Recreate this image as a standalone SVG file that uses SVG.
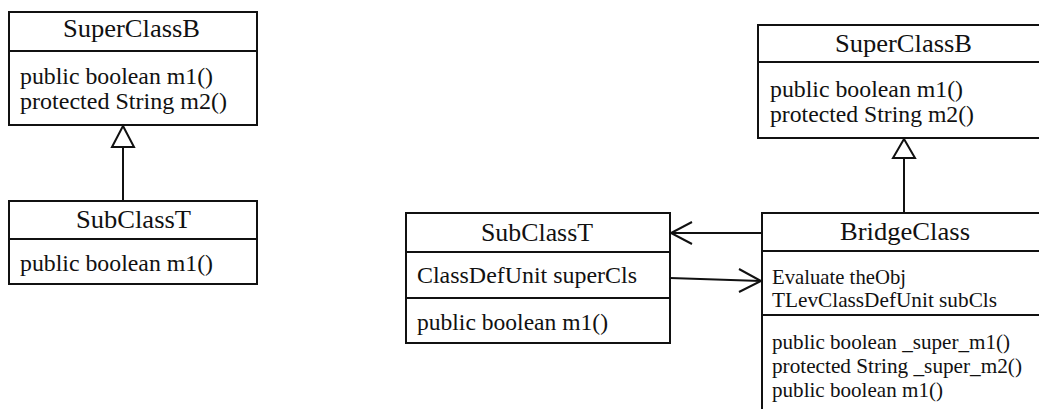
<svg xmlns="http://www.w3.org/2000/svg" width="1039" height="409" viewBox="0 0 1039 409">
<style>
.box{fill:#fff;stroke:#111;stroke-width:2}
.ln{stroke:#111;stroke-width:2;fill:none}
.tri{fill:#fff;stroke:#111;stroke-width:2;stroke-linejoin:miter}
.t{font-family:"Liberation Serif","Times New Roman",serif;font-size:25px;fill:#111;text-anchor:middle}
.b{font-family:"Liberation Serif","Times New Roman",serif;font-size:23px;fill:#111}
.s{font-family:"Liberation Serif","Times New Roman",serif;font-size:21px;fill:#111}
</style>
<rect width="1039" height="409" fill="#fff"/>
<g id="superB_left">
<rect class="box" x="9" y="12" width="248" height="113"/>
<line class="ln" x1="9" y1="51" x2="257" y2="51"/>
<text class="t" x="131.5" y="37" textLength="137" lengthAdjust="spacingAndGlyphs">SuperClassB</text>
<text class="b" x="20" y="84" textLength="193" lengthAdjust="spacingAndGlyphs">public boolean m1()</text>
<text class="b" x="20" y="109" textLength="207" lengthAdjust="spacingAndGlyphs">protected String m2()</text>
</g>
<g id="subT_left">
<rect class="box" x="9" y="201" width="248" height="83"/>
<line class="ln" x1="9" y1="239" x2="257" y2="239"/>
<text class="t" x="133.5" y="228" textLength="115" lengthAdjust="spacingAndGlyphs">SubClassT</text>
<text class="b" x="20" y="271" textLength="193" lengthAdjust="spacingAndGlyphs">public boolean m1()</text>
</g>
<g id="subT_mid">
<rect class="box" x="406" y="213" width="264" height="130"/>
<line class="ln" x1="406" y1="252" x2="670" y2="252"/>
<line class="ln" x1="406" y1="298" x2="670" y2="298"/>
<text class="t" x="537" y="241" textLength="112" lengthAdjust="spacingAndGlyphs">SubClassT</text>
<text class="b" x="417" y="283" textLength="220" lengthAdjust="spacingAndGlyphs">ClassDefUnit superCls</text>
<text class="b" x="417" y="330" textLength="191" lengthAdjust="spacingAndGlyphs">public boolean m1()</text>
</g>
<g id="superB_right">
<rect class="box" x="758" y="25" width="295" height="113"/>
<line class="ln" x1="758" y1="62" x2="1053" y2="62"/>
<text class="t" x="903.5" y="52" textLength="137" lengthAdjust="spacingAndGlyphs">SuperClassB</text>
<text class="b" x="770" y="97" textLength="193" lengthAdjust="spacingAndGlyphs">public boolean m1()</text>
<text class="b" x="770" y="122" textLength="204" lengthAdjust="spacingAndGlyphs">protected String m2()</text>
</g>
<g id="bridge">
<rect class="box" x="762" y="213" width="290" height="210"/>
<line class="ln" x1="762" y1="251" x2="1052" y2="251"/>
<line class="ln" x1="762" y1="315" x2="1052" y2="315"/>
<text class="t" x="905" y="240" textLength="130" lengthAdjust="spacingAndGlyphs">BridgeClass</text>
<text class="s" x="772" y="284" textLength="134" lengthAdjust="spacingAndGlyphs">Evaluate theObj</text>
<text class="s" x="772" y="307" textLength="225" lengthAdjust="spacingAndGlyphs">TLevClassDefUnit subCls</text>
<text class="s" x="772" y="349" textLength="238" lengthAdjust="spacingAndGlyphs">public boolean _super_m1()</text>
<text class="s" x="772" y="373" textLength="250" lengthAdjust="spacingAndGlyphs">protected String _super_m2()</text>
<text class="s" x="772" y="397" textLength="171" lengthAdjust="spacingAndGlyphs">public boolean m1()</text>
</g>
<g id="connectors">
<line class="ln" x1="123" y1="201" x2="123" y2="147"/>
<polygon class="tri" points="123,126 112,147 134,147"/>
<line class="ln" x1="904" y1="213" x2="904" y2="158"/>
<polygon class="tri" points="904,139 893,158 915,158"/>
<line class="ln" x1="762" y1="233" x2="671" y2="233"/>
<polyline class="ln" points="692,222 671,233 692,244"/>
<line class="ln" x1="670" y1="278" x2="761" y2="281"/>
<polyline class="ln" points="739,269 761,281 739,292"/>
</g>
</svg>
